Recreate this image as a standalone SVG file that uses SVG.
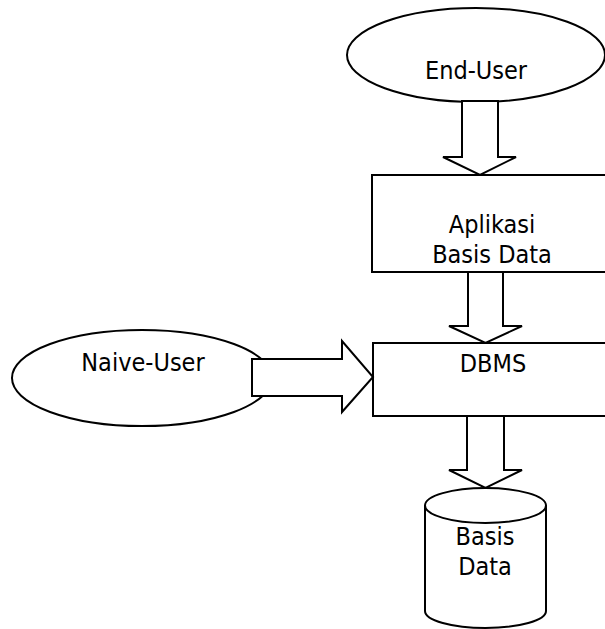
<svg xmlns="http://www.w3.org/2000/svg" width="605" height="629" viewBox="0 0 605 629">
<style>
.s{fill:#fff;stroke:#000;stroke-width:2}
.t{font-family:"DejaVu Sans Condensed","DejaVu Sans",sans-serif;font-stretch:condensed;font-size:25px;fill:#000;text-anchor:middle}
</style>
<rect width="605" height="629" fill="#fff"/>
<g id="end-user"><ellipse class="s" cx="476" cy="55" rx="129" ry="47"/><text class="t" x="476" y="79">End-User</text></g>
<g id="aplikasi"><rect class="s" x="372" y="175" width="242" height="97"/><text class="t" x="492" y="233">Aplikasi</text><text class="t" x="492" y="263">Basis Data</text></g>
<g id="naive-user"><ellipse class="s" cx="142" cy="378" rx="130" ry="48"/><text class="t" x="143" y="371">Naive-User</text></g>
<g id="dbms"><rect class="s" x="373" y="343" width="242" height="73"/><text class="t" x="493" y="372">DBMS</text></g>
<g id="basis-data"><path class="s" d="M425,505 V611 A60.5,17 0 0 0 546,611 V505"/><ellipse class="s" cx="485.5" cy="505.5" rx="60.5" ry="17.5"/><text class="t" x="485" y="545">Basis</text><text class="t" x="485" y="575">Data</text></g>
<g id="connectors">
<polygon class="s" points="462,101 498,101 498,157 516,157 480,175 443,157 462,157"/>
<polygon class="s" points="468,272 503,272 503,326 522,326 485.5,343 449,326 468,326"/>
<polygon class="s" points="252,359 342,359 342,341 373,377 342,412 342,396 252,396"/>
<polygon class="s" points="467,416 504,416 504,470 522,470 485.5,488 449,470 467,470"/>
</g>
</svg>
